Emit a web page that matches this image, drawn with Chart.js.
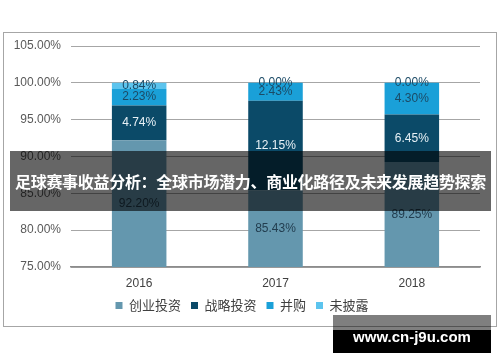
<!DOCTYPE html>
<html>
<head>
<meta charset="utf-8">
<script src="https://cdn.jsdelivr.net/npm/chart.js@4.4.0/dist/chart.umd.min.js"></script>
<style>
    html, body { margin: 0; padding: 0; background: #fff; }
    body { width: 500px; height: 362px; position: relative; overflow: hidden; }
    #frame { position: absolute; left: 3px; top: 32px; width: 492px; height: 293px; border: 1px solid #a6a6a6; }
    #banner { position: absolute; left: 10px; top: 151px; width: 481px; height: 60px; background: rgba(0,0,0,0.6);
        color: #fff; font: bold 16px "Noto Sans CJK SC", sans-serif; line-height: 60px; text-align: center; white-space: nowrap; letter-spacing: -0.3px; }
    #site { position: absolute; left: 333px; top: 315px; width: 158px; }
    #site .top { height: 15px; background: rgba(0,0,0,0.5); }
    #site .bot { height: 23px; background: #000; color: #fff; font: bold 15px "Liberation Sans", Arial, sans-serif; text-align: center; line-height: 14px; }
</style>
</head>
<body>
<div id="frame"><canvas id="chart" width="492" height="293"></canvas></div>
<div id="banner">足球赛事收益分析：全球市场潜力、商业化路径及未来发展趋势探索</div>
<div id="site"><div class="top"></div><div class="bot">www.cn-j9u.com</div></div>
<script>
const years = ["2016", "2017", "2018"];
const ventureInv = [92.20, 85.43, 89.25];    // 创业投资
const strategicInv = [4.74, 12.15, 6.45];    // 战略投资
const mergers = [2.23, 2.43, 4.30];          // 并购
const undisclosed = [0.84, 0.00, 0.00];      // 未披露
const yTicks = [75, 80, 85, 90, 95, 100, 105];

const labelColors = ["#223d4f", "#e8f1f6", "#1b4a66", "#1b4a66"];

// draws the percentage inside the visible part of each segment
const segmentLabels = {
    id: "segmentLabels",
    afterDatasetsDraw(chart) {
        const ctx = chart.ctx;
        const area = chart.chartArea;
        ctx.save();
        ctx.font = "12px 'Liberation Sans', Arial, sans-serif";
        ctx.textAlign = "center";
        ctx.textBaseline = "middle";
        chart.data.datasets.forEach((ds, i) => {
            chart.getDatasetMeta(i).data.forEach((bar, j) => {
                const top = Math.max(bar.y, area.top);
                const bottom = Math.min(bar.base, area.bottom);
                ctx.fillStyle = labelColors[i];
                ctx.fillText(ds.data[j].toFixed(2) + "%", bar.x, (top + bottom) / 2);
            });
        });
        ctx.restore();
    }
};

new Chart(document.getElementById("chart"), {
    type: "bar",
    data: {
        labels: years,
        datasets: [
            { label: "创业投资", data: ventureInv, backgroundColor: "#6497ae" },
            { label: "战略投资", data: strategicInv, backgroundColor: "#0b4a68" },
            { label: "并购", data: mergers, backgroundColor: "#1aa0d8" },
            { label: "未披露", data: undisclosed, backgroundColor: "#5cc4ee" }
        ]
    },
    options: {
        responsive: false,
        animation: false,
        layout: { padding: { left: 0, right: 16, top: 13, bottom: 4 } },
        datasets: { bar: { barPercentage: 0.4, categoryPercentage: 1 } },
        plugins: {
            tooltip: { enabled: false },
            legend: {
                position: "bottom",
                labels: {
                    boxWidth: 7, boxHeight: 7, padding: 10,
                    color: "#404040",
                    font: { size: 13, family: "'Noto Sans CJK SC', sans-serif" }
                }
            }
        },
        scales: {
            x: {
                stacked: true,
                grid: { display: false, drawTicks: false },
                border: { color: "#8c8c8c", width: 1.5 },
                ticks: { color: "#404040", padding: 9, font: { size: 12, family: "'Liberation Sans', Arial, sans-serif" } },
                afterFit: s => { s.height = 22; }
            },
            y: {
                stacked: true,
                min: 75, max: 105,
                afterBuildTicks: s => { s.ticks = yTicks.map(v => ({ value: v })); },
                grid: { color: "#a6a6a6", drawTicks: false },
                border: { display: false },
                ticks: { color: "#595959", padding: 10, callback: v => v.toFixed(2) + "%", font: { size: 12, family: "'Liberation Sans', Arial, sans-serif" } },
                afterFit: s => { s.width = 67; s.paddingTop = 0; s.paddingBottom = 0; }
            }
        }
    },
    plugins: [segmentLabels]
});
</script>
</body>
</html>
